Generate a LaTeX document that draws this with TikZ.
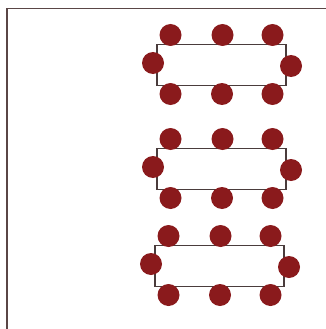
\documentclass[tikz,border=0pt]{standalone}
\begin{document}
\begin{tikzpicture}[x=1pt,y=-1pt,
  tablebox/.style={draw=tablegray,line width=1.2pt,fill=white,minimum width=129pt,minimum height=41pt,inner sep=0pt},
  chair/.style={circle,fill=chairred,minimum size=22pt,inner sep=0pt},
  frameline/.style={draw=framegray,line width=1.3pt}]
\definecolor{chairred}{HTML}{8A1A1C}
\definecolor{tablegray}{HTML}{4A3C3C}
\definecolor{framegray}{HTML}{5A4646}
\useasboundingbox (0,0) rectangle (326,329);
\coordinate (fa) at (7,329);
\coordinate (fb) at (7,8.5);
\coordinate (fc) at (326,8.5);
\draw[frameline] (fa) -- (fb) -- (fc);
\foreach \i/\cx/\cy in {1/221.5/65, 2/221.5/169, 3/219.5/266}{
  \node[tablebox] (t\i) at (\cx,\cy) {};
  \node[chair] (t\i-t1) at (\cx-51,\cy-30) {};
  \node[chair] (t\i-t2) at (\cx+1,\cy-30) {};
  \node[chair] (t\i-t3) at (\cx+51,\cy-30) {};
  \node[chair] (t\i-b1) at (\cx-51,\cy+29) {};
  \node[chair] (t\i-b2) at (\cx+0.5,\cy+29) {};
  \node[chair] (t\i-b3) at (\cx+51,\cy+29) {};
  \node[chair] (t\i-l) at (\cx-68.5,\cy-2) {};
  \node[chair] (t\i-r) at (\cx+69.5,\cy+1) {};
}
\end{tikzpicture}
\end{document}
